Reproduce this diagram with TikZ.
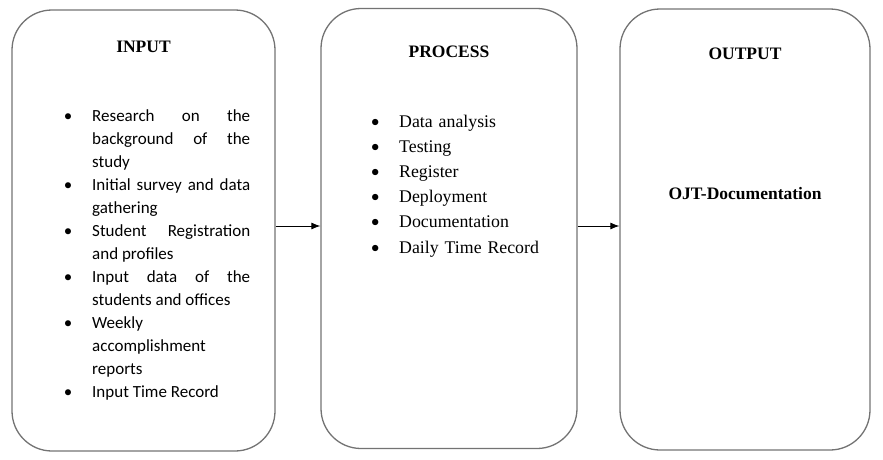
\documentclass[tikz,border=0pt]{standalone}
\usepackage{fontspec}
\setmainfont{Liberation Serif}
\newfontfamily\calibrifont{Carlito}
\usetikzlibrary{arrows.meta}

\tolerance=10000
\hyphenpenalty=10000

\newenvironment{dotlist}{\begin{list}{\makebox[0pt]{\calibrifont\textbullet}}{%
  \setlength{\leftmargin}{24pt}\setlength{\labelwidth}{0pt}%
  \setlength{\labelsep}{24pt}\setlength{\itemindent}{0pt}%
  \setlength{\itemsep}{0pt}\setlength{\parsep}{0pt}%
  \setlength{\topsep}{0pt}\setlength{\partopsep}{0pt}}}{\end{list}}

\tikzset{
  ipobox/.style={draw=black!55, line width=1.3pt, rounded corners=40pt, inner sep=0pt},
  ipotitle/.style={font=\fontsize{17.5}{21}\selectfont\bfseries, anchor=base, inner sep=0pt},
  ipolist/.style={anchor=base west, inner sep=0pt},
  flow/.style={-{Latex[length=9pt,width=7pt]}, line width=0.9pt},
}

\begin{document}
\begin{tikzpicture}[x=1pt, y=-1pt]
  \useasboundingbox (0,0) rectangle (883,459);
  % the three boxes
  \node[ipobox, minimum width=263pt, minimum height=441pt] (inbox) at (143.5,230.5) {};
  \node[ipobox, minimum width=256pt, minimum height=440pt] (procbox) at (449,228.5) {};
  \node[ipobox, minimum width=250pt, minimum height=441pt] (outbox) at (745,229.5) {};
  % titles
  \node[ipotitle] (intitle) at (143.5,52) {INPUT};
  \node[ipotitle] (proctitle) at (449,57) {PROCESS};
  \node[ipotitle] (outtitle) at (745,59.3) {OUTPUT};
  % input list
  \node[ipolist, text width=182pt, align=justify, font=\calibrifont\fontsize{17}{22.94}\selectfont] (inlist) at (68,98.8) {%
    \begin{dotlist}
      \item Research on the\linebreak background of the\linebreak study
      \item Initial survey and data\linebreak gathering
      \item Student Registration\linebreak and profiles
      \item Input data of the\linebreak students and offices
      \item Weekly\newline accomplishment\newline reports
      \item Input Time Record
    \end{dotlist}};
  % process list
  \node[ipolist, text width=200pt, align=left, font=\fontsize{17.8}{25.2}\selectfont] (proclist) at (375,101.8) {%
    \begin{dotlist}
      \item Data analysis
      \item Testing
      \item Register
      \item Deployment
      \item Documentation
      \item Daily Time Record
    \end{dotlist}};
  % output
  \node[ipotitle] (outtext) at (745,199) {OJT-Documentation};
  % arrows
  \coordinate (flowline) at (0,226);
  \draw[flow] (inbox.east |- flowline) -- (procbox.west |- flowline);
  \draw[flow] (procbox.east |- flowline) -- (outbox.west |- flowline);
\end{tikzpicture}
\end{document}
